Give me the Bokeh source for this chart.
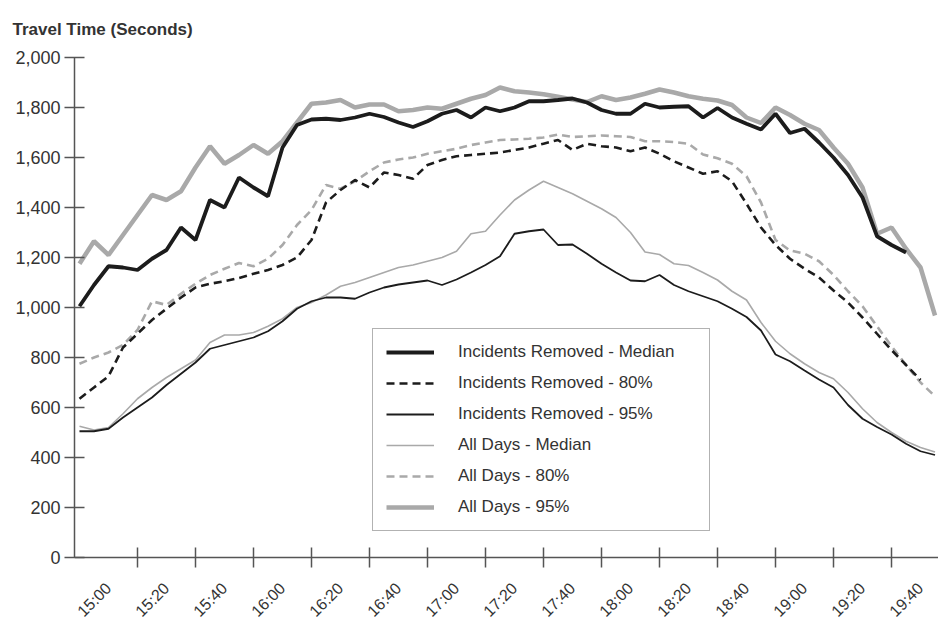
import math
import numpy as np
from bokeh.plotting import figure
from bokeh.core.properties import value
from bokeh.models import (Range1d, FixedTicker, NumeralTickFormatter, Legend, LegendItem,
                          LabelSet, ColumnDataSource)
from bokeh.embed import file_html
from bokeh.resources import INLINE

nan = float("nan")

# minutes after 15:00, one sample every 5 minutes (15:00 .. 19:55)
minutes = list(range(0, 300, 5))

tick_labels = ["15:00", "15:20", "15:40", "16:00", "16:20", "16:40", "17:00", "17:20",
               "17:40", "18:00", "18:20", "18:40", "19:00", "19:20", "19:40"]
label_minutes = [10, 30, 50, 70, 90, 110, 130, 150, 170, 190, 210, 230, 250, 270, 290]
boundary_minutes = [20, 40, 60, 80, 100, 120, 140, 160, 180, 200, 220, 240, 260, 280]
y_ticks = [0, 200, 400, 600, 800, 1000, 1200, 1400, 1600, 1800, 2000]

ir_median = [1005, 1090, 1165, 1160, 1150, 1195, 1230, 1320, 1270, 1430, 1400, 1520, 1480, 1445, 1640,
             1730, 1752, 1755, 1750, 1760, 1775, 1762, 1740, 1722, 1745, 1775, 1790, 1760, 1800, 1785,
             1800, 1825, 1825, 1830, 1836, 1820, 1790, 1775, 1775, 1815, 1800, 1803, 1805, 1760, 1798,
             1760, 1735, 1712, 1775, 1698, 1715, 1660, 1600, 1530, 1440, 1285, 1250, 1220, nan, nan]

ir_80 = [635, 680, 725, 840, 895, 950, 995, 1040, 1080, 1095, 1105, 1118, 1135, 1150, 1170,
         1200, 1270, 1420, 1470, 1510, 1480, 1540, 1530, 1515, 1570, 1590, 1605, 1610, 1615, 1620,
         1630, 1640, 1655, 1670, 1630, 1655, 1645, 1640, 1625, 1640, 1615, 1585, 1560, 1535, 1545,
         1505, 1415, 1320, 1250, 1195, 1155, 1120, 1068, 1020, 960, 895, 830, 770, 710, nan]

ir_95 = [505, 505, 515, 560, 600, 640, 690, 735, 780, 835, 850, 865, 880, 905, 945,
         995, 1025, 1040, 1040, 1035, 1060, 1080, 1092, 1100, 1108, 1090, 1112, 1140, 1170, 1205,
         1295, 1305, 1312, 1250, 1252, 1215, 1175, 1140, 1108, 1105, 1130, 1090, 1065, 1045, 1025,
         995, 962, 908, 812, 785, 748, 712, 680, 610, 555, 522, 492, 455, 425, 410]

all_median = [525, 510, 520, 575, 635, 680, 720, 755, 790, 860, 890, 890, 900, 925, 955,
              1000, 1020, 1050, 1085, 1100, 1120, 1140, 1160, 1170, 1185, 1200, 1225, 1295, 1305, 1370,
              1430, 1470, 1505, 1480, 1455, 1425, 1395, 1360, 1300, 1222, 1212, 1175, 1168, 1140, 1110,
              1065, 1030, 940, 865, 815, 775, 740, 715, 660, 595, 540, 500, 465, 440, 422]

all_80 = [775, 800, 820, 850, 910, 1025, 1010, 1055, 1095, 1130, 1155, 1178, 1165, 1195, 1250,
          1330, 1390, 1490, 1475, 1505, 1545, 1580, 1592, 1600, 1615, 1625, 1635, 1650, 1660, 1670,
          1672, 1675, 1680, 1692, 1682, 1685, 1688, 1685, 1682, 1665, 1665, 1662, 1655, 1612, 1597,
          1575, 1525, 1420, 1270, 1228, 1215, 1185, 1130, 1065, 1005, 925, 845, 770, 700, 645]

all_95 = [1175, 1265, 1210, 1290, 1370, 1450, 1430, 1465, 1560, 1645, 1575, 1610, 1650, 1615, 1665,
          1740, 1815, 1820, 1830, 1800, 1812, 1812, 1785, 1790, 1800, 1795, 1815, 1835, 1850, 1880,
          1865, 1860, 1853, 1843, 1832, 1822, 1845, 1830, 1840, 1855, 1872, 1860, 1845, 1835, 1828,
          1810, 1760, 1738, 1800, 1770, 1735, 1710, 1640, 1575, 1480, 1295, 1320, 1235, 1160, 968]

FONT = "Liberation Sans"
AXIS_COLOR = "#555555"
TEXT_COLOR = "#333333"
BLACK = "#1c1c1c"
GRAY = "#a9a9a9"

# The frame runs down to the bottom of the page so that the rotated time labels,
# drawn below the y=0 axis line, are not clipped.
p = figure(width=938, height=619, output_backend="svg", toolbar_location=None,
           x_range=Range1d(-1.72, 296.2), y_range=Range1d(-248, 2000),
           min_border_left=74, min_border_right=0, min_border_top=57, min_border_bottom=0)
p.outline_line_color = None
p.xgrid.visible = False
p.ygrid.visible = False
p.background_fill_color = "white"
p.border_fill_color = "white"

x = np.array(minutes, dtype=float)
r_all95 = p.line(x, np.array(all_95, dtype=float), line_color=GRAY, line_width=4.5)
r_all80 = p.line(x, np.array(all_80, dtype=float), line_color=GRAY, line_width=2.6, line_dash="8 5")
r_allmed = p.line(x, np.array(all_median, dtype=float), line_color=GRAY, line_width=1.6)
r_ir95 = p.line(x, np.array(ir_95, dtype=float), line_color=BLACK, line_width=1.8)
r_ir80 = p.line(x, np.array(ir_80, dtype=float), line_color=BLACK, line_width=2.6, line_dash="8 5")
r_irmed = p.line(x, np.array(ir_median, dtype=float), line_color=BLACK, line_width=3.8)

# title
p.title.text = "Travel Time (Seconds)"
p.title.text_font = FONT
p.title.text_font_size = "17px"
p.title.text_font_style = "bold"
p.title.text_color = TEXT_COLOR
p.title.align = "left"
p.title.vertical_align = "top"
p.title.offset = -62
p.title.standoff = 34

# y axis
yax = p.yaxis[0]
yax.ticker = FixedTicker(ticks=y_ticks)
yax.formatter = NumeralTickFormatter(format="0,0")
yax.bounds = (0, 2000)
yax.axis_line_color = AXIS_COLOR
yax.axis_line_width = 1.5
yax.major_tick_line_color = AXIS_COLOR
yax.major_tick_line_width = 1.5
yax.major_tick_in = 10
yax.major_tick_out = 10
yax.minor_tick_line_color = None
yax.major_label_text_font = FONT
yax.major_label_text_font_size = "18px"
yax.major_label_text_color = TEXT_COLOR
yax.major_label_standoff = 4

# x axis drawn at y = 0; tick marks between the 20-minute labels
xax = p.xaxis[0]
xax.fixed_location = 0
xax.ticker = FixedTicker(ticks=[], minor_ticks=boundary_minutes)
xax.axis_line_color = AXIS_COLOR
xax.axis_line_width = 1.5
xax.major_tick_line_color = None
xax.minor_tick_line_color = AXIS_COLOR
xax.minor_tick_line_width = 1.5
xax.minor_tick_in = 10
xax.minor_tick_out = 10

# rotated time labels
lab_src = ColumnDataSource(dict(x=label_minutes, y=[0] * len(label_minutes), text=tick_labels))
labels = LabelSet(x="x", y="y", text="text", source=lab_src, angle=math.pi / 4,
                  text_align="right", text_baseline="middle", y_offset=-28,
                  text_font=value(FONT), text_font_size=value("16px"), text_color=TEXT_COLOR)
p.add_layout(labels)

legend = Legend(items=[
    LegendItem(label="Incidents Removed - Median", renderers=[r_irmed]),
    LegendItem(label="Incidents Removed - 80%", renderers=[r_ir80]),
    LegendItem(label="Incidents Removed - 95%", renderers=[r_ir95]),
    LegendItem(label="All Days - Median", renderers=[r_allmed]),
    LegendItem(label="All Days - 80%", renderers=[r_all80]),
    LegendItem(label="All Days - 95%", renderers=[r_all95]),
], location=(298, 88), padding=13, spacing=11, glyph_width=48, glyph_height=20,
   label_height=20, label_standoff=24, label_width=238, margin=0,
   label_text_font=FONT, label_text_font_size="17px", label_text_color=TEXT_COLOR,
   border_line_color="#666666", border_line_width=1.5, background_fill_color="white",
   background_fill_alpha=1.0)
p.add_layout(legend, "center")

open("out.html", "w").write(file_html(p, INLINE))
